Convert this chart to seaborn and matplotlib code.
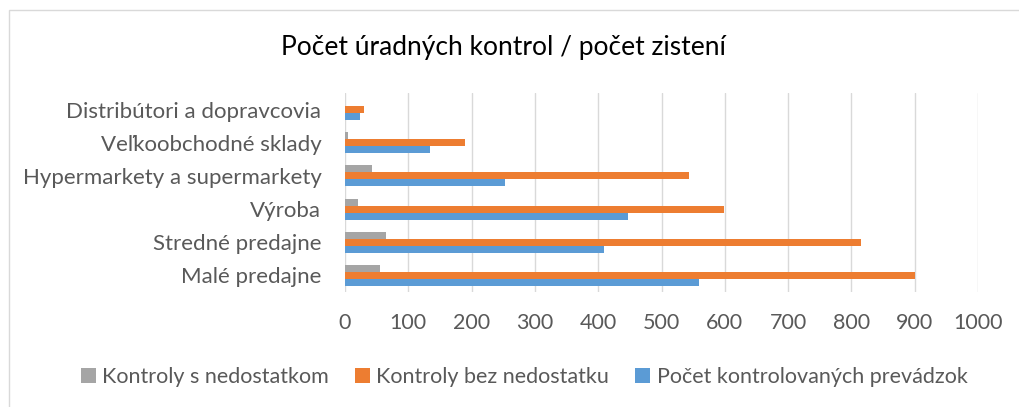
import matplotlib
matplotlib.use("Agg")
import matplotlib.pyplot as plt
import seaborn as sns
import pandas as pd
from matplotlib.patches import Rectangle, Patch

categories = ["Distribútori a dopravcovia", "Veľkoobchodné sklady",
              "Hypermarkety a supermarkety", "Výroba",
              "Stredné predajne", "Malé predajne"]
kontroly_s_nedostatkom = [0, 4, 43, 21, 65, 55]
kontroly_bez_nedostatku = [30, 189, 543, 598, 815, 900]
pocet_prevadzok = [23, 135, 252, 447, 409, 560]
series_names = ["Kontroly s nedostatkom", "Kontroly bez nedostatku",
                "Počet kontrolovaných prevádzok"]
colors = ["#A5A5A5", "#ED7D31", "#5B9BD5"]
x_ticks = [0, 100, 200, 300, 400, 500, 600, 700, 800, 900, 1000]
title = "Počet úradných kontrol / počet zistení"

rows = []
for name, vals in zip(series_names, [kontroly_s_nedostatkom, kontroly_bez_nedostatku, pocet_prevadzok]):
    for c, v in zip(categories, vals):
        rows.append({"kategoria": c, "seria": name, "hodnota": v})
df = pd.DataFrame(rows)

sns.set_theme(style="white")
plt.rcParams["font.family"] = ["Lato", "DejaVu Sans"]
text_color = "#595959"

W, H = 1019, 407
fig = plt.figure(figsize=(W / 100, H / 100), dpi=100)
ax = fig.add_axes([345 / W, 1 - 292 / H, (978 - 345) / W, (292 - 93) / H])

sns.barplot(data=df, y="kategoria", x="hodnota", hue="seria",
            order=categories, hue_order=series_names, palette=colors,
            orient="h", width=0.63, ax=ax, legend=False, saturation=1,
            edgecolor="none", linewidth=0)

ax.set_xlim(0, 1000)
ax.set_xticks(x_ticks)
ax.set_xticklabels([str(t) for t in x_ticks])
ax.grid(axis="x", color="#D9D9D9", linewidth=1.0)
ax.grid(axis="y", visible=False)
ax.set_axisbelow(True)
for s in ax.spines.values():
    s.set_visible(False)
ax.set_xlabel("")
ax.set_ylabel("")
ax.tick_params(axis="x", length=0, pad=15, labelsize=15.5, labelcolor=text_color)
ax.tick_params(axis="y", length=0, pad=17, labelsize=16, labelcolor=text_color)

fig.text(503 / W, 1 - 48 / H, title, ha="center", va="center", fontsize=19, color="#000000")

handles = [Patch(facecolor=c, edgecolor="none") for c in colors]
fig.legend(handles, series_names, loc="center", bbox_to_anchor=(524 / W, 1 - 377 / H),
           ncol=3, frameon=False, fontsize=15.5, labelcolor=text_color,
           handlelength=0.7, handleheight=0.7, handletextpad=0.3, columnspacing=1.2)

fig.patches.append(Rectangle((9 / W, -0.1), 1.2, 1 - 10 / H + 0.1, transform=fig.transFigure,
                             fill=False, edgecolor="#D9D9D9", linewidth=1.0))

fig.savefig("out.png", dpi=100, facecolor="white")
